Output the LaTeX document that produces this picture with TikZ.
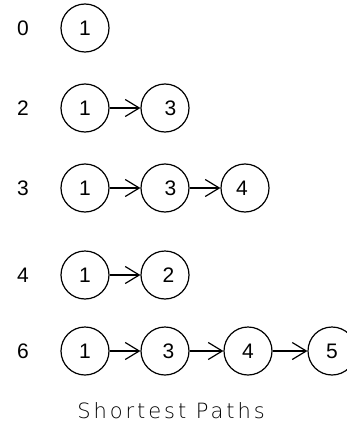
\documentclass[tikz,border=0pt]{standalone}
\usepackage{fontspec}
\setmainfont{Liberation Sans}
\newfontfamily\titlefont[UprightFont={* ExtraLight},LetterSpace=14]{DejaVu Sans}
\usetikzlibrary{arrows.meta}
\begin{document}
\begin{tikzpicture}[x=1pt,y=1pt,
  vtx/.style={draw,circle,line width=1.2pt,minimum size=48pt,inner sep=0pt,font=\fontsize{21}{21}\selectfont},
  lbl/.style={font=\fontsize{21}{21}\selectfont},
  edge/.style={line width=1.2pt,-{Straight Barb[length=14pt,width=17pt,line width=1.2pt]}}]
\useasboundingbox (0,0) rectangle (347,-428);
% row 0
\node[lbl] (l0) at (23,-28) {0};
\node[vtx] (a1) at (85,-28) {1};
% row 2
\node[lbl] (l2) at (23,-108) {2};
\node[vtx] (b1) at (85,-108) {1};
\node[vtx] (b3) at (165,-108) {\hspace{11pt}3};
\draw[edge] (b1) -- (b3);
% row 3
\node[lbl] (l3) at (23,-188) {3};
\node[vtx] (c1) at (85,-188) {1};
\node[vtx] (c3) at (165,-188) {\hspace{11pt}3};
\node[vtx] (c4) at (245,-188) {\hspace{-6pt}4};
\draw[edge] (c1) -- (c3);
\draw[edge] (c3) -- (c4);
% row 4
\node[lbl] (l4) at (23,-275) {4};
\node[vtx] (d1) at (85,-275) {1};
\node[vtx] (d2) at (165,-275) {\hspace{7pt}2};
\draw[edge] (d1) -- (d2);
% row 6
\node[lbl] (l6) at (23,-351) {6};
\node[vtx] (e1) at (85,-351) {1};
\node[vtx] (e3) at (165,-351) {\hspace{7pt}3};
\node[vtx] (e4) at (248,-351) {4};
\node[vtx] (e5) at (332,-351) {5};
\draw[edge] (e1) -- (e3);
\draw[edge] (e3) -- (e4);
\draw[edge] (e4) -- (e5);
% title
\node[font=\titlefont\fontsize{21}{21}\selectfont] (title) at (171,-411) {Shortest Paths};
\end{tikzpicture}
\end{document}
